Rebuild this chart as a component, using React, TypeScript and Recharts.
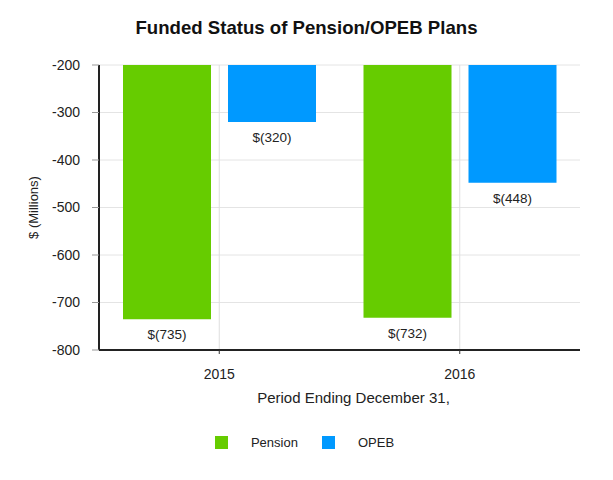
import { Bar, BarChart, CartesianGrid, LabelList, Legend, ReferenceLine, XAxis, YAxis } from 'recharts'

const years = ['2015', '2016']
const pension = [-735, -732]
const opeb = [-320, -448]
const yTicks = [-200, -300, -400, -500, -600, -700, -800]
const seriesNames = ['Pension', 'OPEB']
const seriesColors = ['#66CC00', '#0099FF']

const data = years.map((year, i) => ({ year, pension: pension[i], opeb: opeb[i] }))

const FONT = 'Liberation Sans, Arial, sans-serif'

const fmt = (v: number) => `$(${Math.abs(v)})`

function BelowLabel(props: any) {
  const { x, y, width, height, value } = props
  const bottom = Math.max(y, y + height)
  return (
    <text
      x={x + width / 2}
      y={bottom + 20}
      textAnchor="middle"
      fontSize={13.5}
      fontFamily={FONT}
      fill="#222"
    >
      {fmt(value)}
    </text>
  )
}

// fixed order: Pension first, then OPEB
function LegendBox() {
  return (
    <div
      style={{
        height: 30,
        display: 'flex',
        justifyContent: 'center',
        alignItems: 'center',
        fontFamily: FONT,
        fontSize: 13,
        color: '#222',
      }}
    >
      {seriesNames.map((name, i) => (
        <div key={name} style={{ display: 'flex', alignItems: 'center', marginLeft: 12, marginRight: 12 }}>
          <span style={{ width: 13, height: 13, background: seriesColors[i], display: 'inline-block', marginRight: 23 }} />
          <span>{name}</span>
        </div>
      ))}
    </div>
  )
}

export default function App() {
  return (
    <div style={{ position: 'absolute', left: 0, top: 0, width: 613, height: 480, background: '#fff' }}>
      <div
        style={{
          position: 'absolute',
          top: 17,
          width: 613,
          textAlign: 'center',
          fontFamily: FONT,
          fontWeight: 'bold',
          fontSize: 18.6,
          color: '#111',
        }}
      >
        Funded Status of Pension/OPEB Plans
      </div>
      <BarChart
        width={613}
        height={480}
        data={data}
        margin={{ top: 65, right: 33, bottom: 40, left: 29 }}
        barSize={88}
        barGap={17}
      >
        <CartesianGrid stroke="#e4e4e4" vertical={false} />
        {years.map((y) => (
          <ReferenceLine key={y} x={y} stroke="#dedede" />
        ))}
        <XAxis
          dataKey="year"
          height={60}
          tickSize={4}
          tickMargin={15}
          axisLine={{ stroke: '#222', strokeWidth: 2 }}
          tickLine={{ stroke: '#333' }}
          tick={{ fontSize: 14, fontFamily: FONT, fill: '#222' }}
          label={{
            value: 'Period Ending December 31,',
            position: 'insideBottom',
            offset: 7,
            dx: 14,
            fontSize: 15,
            fontFamily: FONT,
            fill: '#222',
          }}
        />
        <YAxis
          width={70}
          domain={[-800, -200]}
          ticks={yTicks}
          interval={0}
          tickSize={7}
          tickMargin={12}
          axisLine={{ stroke: '#222', strokeWidth: 2 }}
          tickLine={{ stroke: '#999' }}
          tick={{ fontSize: 14, fontFamily: FONT, fill: '#222' }}
          label={{
            value: '$ (Millions)',
            angle: -90,
            position: 'insideLeft',
            offset: 0,
            dx: 4,
            fontSize: 13,
            fontFamily: FONT,
            fill: '#222',
            style: { textAnchor: 'middle' },
          }}
        />
        <Legend
          verticalAlign="bottom"
          content={<LegendBox />}
          wrapperStyle={{ top: 427, bottom: 'auto' }}
        />
        <Bar dataKey="pension" name="Pension" fill="#66CC00" isAnimationActive={false}>
          <LabelList dataKey="pension" content={<BelowLabel />} />
        </Bar>
        <Bar dataKey="opeb" name="OPEB" fill="#0099FF" isAnimationActive={false}>
          <LabelList dataKey="opeb" content={<BelowLabel />} />
        </Bar>
      </BarChart>
    </div>
  )
}
